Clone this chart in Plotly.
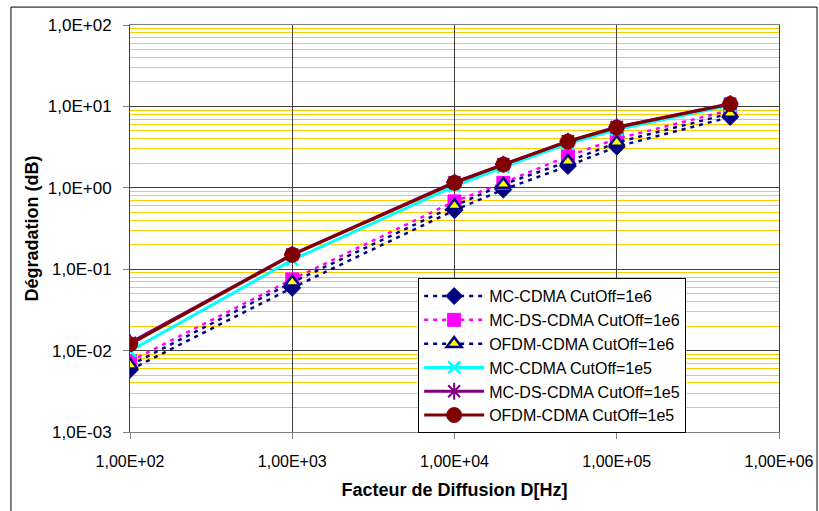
import plotly.graph_objects as go

# Data
diffusion = [1e2, 1e3, 1e4, 2e4, 5e4, 1e5, 5e5]
mc_cdma_1e6 = [0.0058, 0.059, 0.53, 0.95, 1.85, 3.2, 7.4]
mc_ds_cdma_1e6 = [0.0074, 0.075, 0.68, 1.15, 2.45, 4.0, 9.0]
ofdm_cdma_1e6 = [0.0066, 0.069, 0.60, 1.10, 2.1, 3.6, 8.2]
mc_cdma_1e5 = [0.0099, 0.13, 1.05, 1.8, 3.5, 5.2, 10.3]
mc_ds_cdma_1e5 = [0.0125, 0.152, 1.17, 1.95, 3.75, 5.6, 10.8]
ofdm_cdma_1e5 = [0.0120, 0.150, 1.15, 1.93, 3.7, 5.5, 10.7]

x_ticks = [1e2, 1e3, 1e4, 1e5, 1e6]
x_ticktext = ["1,00E+02", "1,00E+03", "1,00E+04", "1,00E+05", "1,00E+06"]
y_ticks = [1e-3, 1e-2, 1e-1, 1e0, 1e1, 1e2]
y_ticktext = ["1,0E-03", "1,0E-02", "1,0E-01", "1,0E+00", "1,0E+01", "1,0E+02"]

FONT = "Liberation Sans, Arial, sans-serif"
NAVY = "#000080"
MAGENTA = "#FF00FF"
CYAN = "#00FFFF"
PURPLE = "#800080"
DARKRED = "#800000"

fig = go.Figure()

fig.add_trace(go.Scatter(
    x=diffusion, y=mc_cdma_1e6, name="MC-CDMA CutOff=1e6", mode="lines+markers",
    line=dict(color=NAVY, width=2.5, dash="4px,5px"),
    marker=dict(symbol="diamond", size=13, color=NAVY, line=dict(color=NAVY, width=1)),
))
fig.add_trace(go.Scatter(
    x=diffusion, y=mc_ds_cdma_1e6, name="MC-DS-CDMA CutOff=1e6", mode="lines+markers",
    line=dict(color=MAGENTA, width=2.5, dash="4px,5px"),
    marker=dict(symbol="square", size=13, color=MAGENTA, line=dict(color=MAGENTA, width=1)),
))
fig.add_trace(go.Scatter(
    x=diffusion, y=ofdm_cdma_1e6, name="OFDM-CDMA CutOff=1e6", mode="lines+markers",
    line=dict(color=NAVY, width=2.5, dash="4px,5px"),
    marker=dict(symbol="triangle-up", size=13, color="#FFFF00", line=dict(color=NAVY, width=2.5)),
))
fig.add_trace(go.Scatter(
    x=diffusion, y=mc_cdma_1e5, name="MC-CDMA CutOff=1e5", mode="lines+markers",
    line=dict(color=CYAN, width=3),
    marker=dict(symbol="x-thin", size=12, color=CYAN, line=dict(color=CYAN, width=2.5)),
))
fig.add_trace(go.Scatter(
    x=diffusion, y=mc_ds_cdma_1e5, name="MC-DS-CDMA CutOff=1e5", mode="lines+markers",
    line=dict(color=PURPLE, width=3),
    marker=dict(symbol="asterisk", size=14, color=PURPLE, line=dict(color=PURPLE, width=2)),
))
fig.add_trace(go.Scatter(
    x=diffusion, y=ofdm_cdma_1e5, name="OFDM-CDMA CutOff=1e5", mode="lines+markers",
    line=dict(color=DARKRED, width=3),
    marker=dict(symbol="circle", size=15, color=DARKRED, line=dict(color=DARKRED, width=1)),
))

minor_y = [k * 10.0 ** e for e in range(-3, 2) for k in range(2, 10)]

fig.update_layout(
    width=819, height=511,
    margin=dict(l=130, r=40, t=25, b=79, autoexpand=False),
    paper_bgcolor="white", plot_bgcolor="white",
    font=dict(family=FONT, size=16, color="black"),
    showlegend=True,
    legend=dict(
        x=0.444, y=0.378, xanchor="left", yanchor="top",
        bgcolor="white", bordercolor="black", borderwidth=1,
        font=dict(family=FONT, size=16, color="black"),
        tracegroupgap=0, itemwidth=60,
    ),
    xaxis=dict(
        type="log", range=[2, 6], automargin=False,
        tickvals=x_ticks, ticktext=x_ticktext,
        tickfont=dict(family=FONT, size=16),
        ticklabelstandoff=9,
        showgrid=True, gridcolor="#404040", gridwidth=1,
        ticks="outside", ticklen=6, tickcolor="#808080",
        showline=True, linecolor="#808080", linewidth=1, mirror=True,
        zeroline=False,
        title=dict(text="<b>Facteur de Diffusion D[Hz]</b>", font=dict(family=FONT, size=18), standoff=14),
    ),
    yaxis=dict(
        type="log", range=[-3, 2], automargin=False,
        tickvals=y_ticks, ticktext=y_ticktext,
        tickfont=dict(family=FONT, size=17),
        ticklabelstandoff=8,
        showgrid=True, gridcolor="#404040", gridwidth=1,
        minor=dict(tickvals=minor_y, showgrid=True, gridcolor="#FFCC00", gridwidth=1, ticks=""),
        ticks="outside", ticklen=6, tickcolor="#808080",
        showline=True, linecolor="#404040", linewidth=1, mirror=True,
        zeroline=False,
        title=dict(text="<b>Dégradation (dB)</b>", font=dict(family=FONT, size=18), standoff=4),
    ),
    shapes=[dict(
        type="rect", xref="paper", yref="paper",
        x0=-0.1834, x1=1.0586, y0=-0.3, y1=1.044,
        line=dict(color="black", width=1), fillcolor="rgba(0,0,0,0)", layer="below",
    )],
)

fig.write_html(
    "out.html",
    config={"displayModeBar": False},
    post_script="document.body.style.margin='0';document.body.style.overflow='hidden';",
)
